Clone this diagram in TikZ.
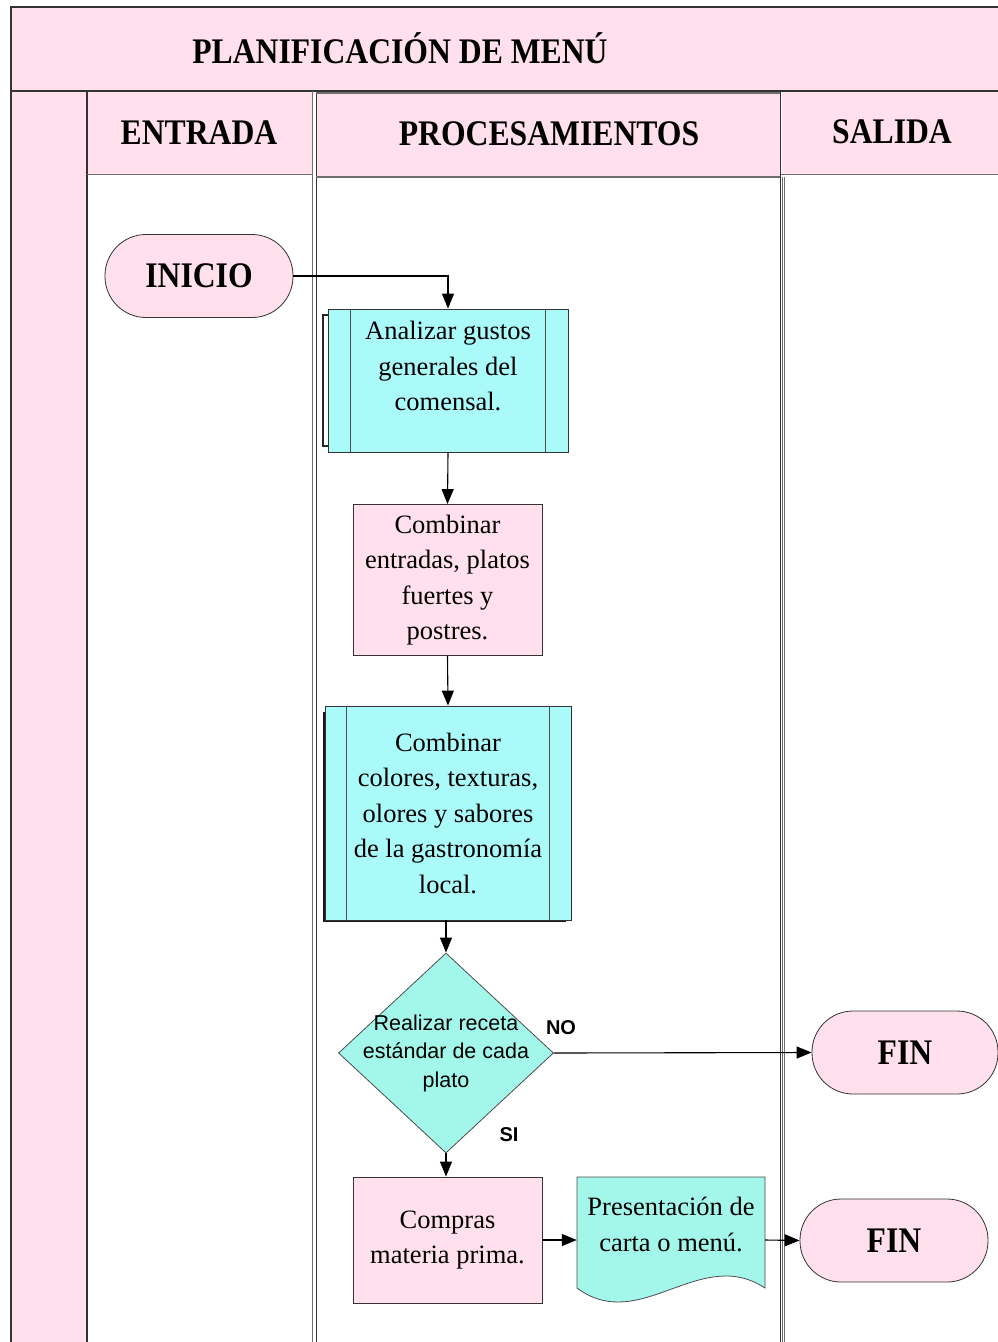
\documentclass[tikz,border=0pt]{standalone}
\usepackage{fontspec}
\setmainfont{Liberation Serif}
\newfontfamily\hdfont[FakeStretch=0.88]{Liberation Serif}
\newfontfamily\dsans{Liberation Sans}
\usetikzlibrary{arrows.meta,shapes.geometric,calc}
\definecolor{lanepink}{RGB}{255,224,236}
\definecolor{procyan}{RGB}{170,250,250}
\definecolor{decmint}{RGB}{163,247,234}
\definecolor{gridline}{RGB}{110,110,110}

\begin{document}
\begin{tikzpicture}[x=1pt,y=-1pt,
  grid/.style={draw=gridline,line width=1.5pt},
  thingrid/.style={draw=black!80,line width=0.9pt},
  darkgrid/.style={draw=black!80,line width=2pt},
  headtxt/.style={font=\hdfont\bfseries\fontsize{36}{40}\selectfont,inner sep=0pt},
  bodytxt/.style={font=\fontsize{26.5}{35.5}\selectfont,align=center,inner sep=0pt},
  terminal/.style={draw=black!80,line width=0.8pt,fill=lanepink,rectangle,rounded corners=41pt,
    minimum width=188pt,minimum height=83pt,font=\hdfont\bfseries\fontsize{36}{40}\selectfont},
  procbox/.style={draw=black!80,line width=0.8pt,rectangle,inner sep=0pt,
    font=\fontsize{26.5}{35.5}\selectfont,align=center},
  flow/.style={draw=black,line width=1.1pt,-{Triangle[length=15pt,width=12pt]}},
  decisionlbl/.style={font=\dsans\bfseries\fontsize{20}{24}\selectfont,inner sep=0pt}
]
\useasboundingbox (0,0) rectangle (997,1342);

% ---- swimlane frame -------------------------------------------------
\fill[lanepink] (11,7) rectangle (1000,91);
\fill[lanepink] (11,91) rectangle (87,1345);
\fill[lanepink] (87,91) rectangle (313,174.5);
\fill[lanepink] (316,93) rectangle (780,177);
\fill[lanepink] (782,91) rectangle (1000,174.5);

\draw[darkgrid] (1000,7) -- (11,7) -- (11,1345);
\draw[darkgrid] (11,91) -- (1000,91);
\draw[darkgrid] (87,91) -- (87,1345);
\draw[grid] (87,174.5) -- (312.5,174.5);
\draw[grid] (312.5,91) -- (312.5,1345);
\draw[thingrid] (316,93) -- (316,1345);
\draw[grid] (316,93) -- (780,93);
\draw[grid] (316,177) -- (780,177);
\draw[thingrid] (780.5,91) -- (780.5,1345);
\draw[draw=gridline,line width=0.8pt] (782.5,177) -- (782.5,1345);
\draw[draw=gridline,line width=0.8pt] (784.5,177) -- (784.5,1345);
\draw[grid] (780.5,174.5) -- (1000,174.5);

\node[headtxt] (title) at (400,48) {PLANIFICACIÓN DE MENÚ};
\node[headtxt] (hin) at (199,133) {ENTRADA};
\node[headtxt] (hproc) at (549,134) {PROCESAMIENTOS};
\node[headtxt] (hout) at (892,132) {SALIDA};

% ---- flow nodes -----------------------------------------------------
\node[terminal] (ini) at (199,276) {INICIO};

% predefined process 1
\draw[black!85,line width=1.3pt] (329,315) -- (323,315) -- (323,446) -- (329,446);
\node[procbox,fill=procyan,minimum width=240pt,minimum height=143pt] (b1) at (448,380.5) {};
\draw[black!70,line width=0.8pt] ($(b1.north west)+(23,0)$) -- ($(b1.south west)+(23,0)$);
\draw[black!70,line width=0.8pt] ($(b1.north east)+(-23,0)$) -- ($(b1.south east)+(-23,0)$);
\node[bodytxt] (b1t) at (448,366) {Analizar gustos\\generales del\\comensal.};

\node[procbox,fill=lanepink,minimum width=189pt,minimum height=151pt] (b2) at (447.5,580)
  {Combinar\\entradas, platos\\fuertes y\\postres.};

% predefined process 2
\draw[black!90,line width=2pt] (324,712) -- (324,921) -- (566,921);
\node[procbox,fill=procyan,minimum width=246pt,minimum height=214pt] (b3) at (448,813) {};
\draw[black!70,line width=0.8pt] ($(b3.north west)+(22,0)$) -- ($(b3.south west)+(22,0)$);
\draw[black!70,line width=0.8pt] ($(b3.north east)+(-22,0)$) -- ($(b3.south east)+(-22,0)$);
\node[bodytxt] (b3t) at (448,813) {Combinar\\colores, texturas,\\olores y sabores\\de la gastronomía\\local.};

% decision
\node[diamond,draw=black!70,line width=0.8pt,fill=decmint,minimum width=215pt,minimum height=200pt,inner sep=0pt] (dec) at (446,1053) {};
\node[font=\dsans\fontsize{21.5}{28.5}\selectfont,align=center,inner sep=0pt] (dect) at (446,1053)
  {Realizar receta\\estándar de cada\\plato};
\node[decisionlbl] (lno) at (561,1028) {NO};
\node[decisionlbl] (lsi) at (509,1135) {SI};

\node[terminal,minimum width=186pt] (fin1) at (905,1052.5) {FIN};

\node[procbox,fill=lanepink,minimum width=189pt,minimum height=126pt] (buy) at (447.5,1240)
  {Compras\\materia prima.};

% document shape
\filldraw[fill=decmint,draw=black!70,line width=0.8pt]
  (577,1177) -- (765,1177) -- (765,1288)
  .. controls (700,1245) and (640,1335) .. (577,1288) -- cycle;
\node[inner sep=0pt,minimum width=188pt,minimum height=126pt] (doc) at (671,1240) {};
\node[bodytxt] (doct) at (671,1224.5) {Presentación de\\carta o menú.};

\node[terminal] (fin2) at (894,1240.5) {FIN};

% ---- connectors -----------------------------------------------------
\draw[flow] (ini.east) -| (b1.north);
\draw[flow] (b1.south) -- (b2.north);
\draw[flow] (b2.south) -- (b3.north);
\draw[flow] (b3.south -| dec.north) -- (dec.north);
\draw[flow] (dec.east) -- (fin1.west);
\draw[flow] (dec.south) -- (dec.south |- buy.north);
\draw[flow] (buy.east) -- (doc.west);
\draw[flow] (doc.east) -- (fin2.west);
\end{tikzpicture}
\end{document}
